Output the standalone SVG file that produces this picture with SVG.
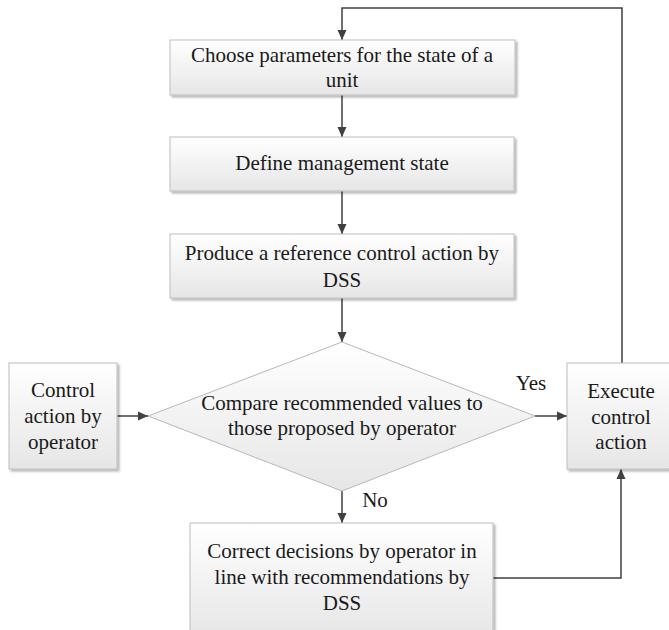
<svg xmlns="http://www.w3.org/2000/svg" width="669" height="630" viewBox="0 0 669 630">
  <defs>
    <linearGradient id="boxFill" x1="0" y1="0" x2="0" y2="1">
      <stop offset="0" stop-color="#ffffff"/>
      <stop offset="1" stop-color="#e6e6e6"/>
    </linearGradient>
    <filter id="shadow" x="-10%" y="-10%" width="130%" height="130%">
      <feGaussianBlur in="SourceAlpha" stdDeviation="1.2"/>
      <feOffset dx="2" dy="2" result="b"/>
      <feComponentTransfer><feFuncA type="linear" slope="0.3"/></feComponentTransfer>
      <feMerge><feMergeNode/><feMergeNode in="SourceGraphic"/></feMerge>
    </filter>
    <marker id="arrow" viewBox="0 0 10 10" refX="10" refY="5" markerWidth="10" markerHeight="10" markerUnits="userSpaceOnUse" orient="auto">
      <path d="M0,0.5 L10,5 L0,9.5 Z" fill="#404040"/>
    </marker>
  </defs>
  <style>
    .box { fill: url(#boxFill); stroke: #bdbdbd; stroke-width: 1; filter: url(#shadow); }
    .dia { fill: url(#boxFill); stroke: #b8b8b8; stroke-width: 1; }
    .t { font-size: 21px; fill: #1a1a1a; text-anchor: middle; }
    .conn { fill: none; stroke: #404040; stroke-width: 1.5; }
  </style>
  <rect width="669" height="630" fill="#ffffff"/>

  <g font-family="'Liberation Serif', 'DejaVu Serif', serif">
  <g id="connectors">
    <path class="conn" d="M622,363 V8 H342 V40" marker-end="url(#arrow)"/>
    <path class="conn" d="M342,95 V137" marker-end="url(#arrow)"/>
    <path class="conn" d="M342,191 V234" marker-end="url(#arrow)"/>
    <path class="conn" d="M342,298 V342" marker-end="url(#arrow)"/>
    <path class="conn" d="M117,416 H148" marker-end="url(#arrow)"/>
    <path class="conn" d="M535,416 H567" marker-end="url(#arrow)"/>
    <path class="conn" d="M342,491 V523" marker-end="url(#arrow)"/>
    <path class="conn" d="M493,578 H621 V469" marker-end="url(#arrow)"/>
    <text class="t" x="531" y="390">Yes</text>
    <text class="t" x="375" y="507">No</text>
  </g>

  <g id="choose-parameters">
    <rect class="box" x="170" y="40" width="345" height="55"/>
    <text class="t" x="342" y="62">Choose parameters for the state of a</text>
    <text class="t" x="342" y="87">unit</text>
  </g>

  <g id="define-state">
    <rect class="box" x="170" y="137" width="344" height="54"/>
    <text class="t" x="342" y="170">Define management state</text>
  </g>

  <g id="reference-action">
    <rect class="box" x="170" y="234" width="344" height="64"/>
    <text class="t" x="342" y="260">Produce a reference control action by</text>
    <text class="t" x="342" y="287">DSS</text>
  </g>

  <g id="operator-action">
    <rect class="box" x="9" y="363" width="108" height="106"/>
    <text class="t" x="63" y="397">Control</text>
    <text class="t" x="63" y="423">action by</text>
    <text class="t" x="63" y="449">operator</text>
  </g>

  <g id="compare">
    <polygon class="dia" points="342,342 535,416 342,491 148,416"/>
    <text class="t" x="342" y="410">Compare recommended values to</text>
    <text class="t" x="342" y="435">those proposed by operator</text>
  </g>

  <g id="execute-action">
    <rect class="box" x="567" y="363" width="108" height="106"/>
    <text class="t" x="621" y="398">Execute</text>
    <text class="t" x="621" y="424">control</text>
    <text class="t" x="621" y="449">action</text>
  </g>

  <g id="correct-decisions">
    <rect class="box" x="190" y="523" width="303" height="115"/>
    <text class="t" x="342" y="558">Correct decisions by operator in</text>
    <text class="t" x="342" y="584">line with recommendations by</text>
    <text class="t" x="342" y="610">DSS</text>
  </g>
  </g>
</svg>
